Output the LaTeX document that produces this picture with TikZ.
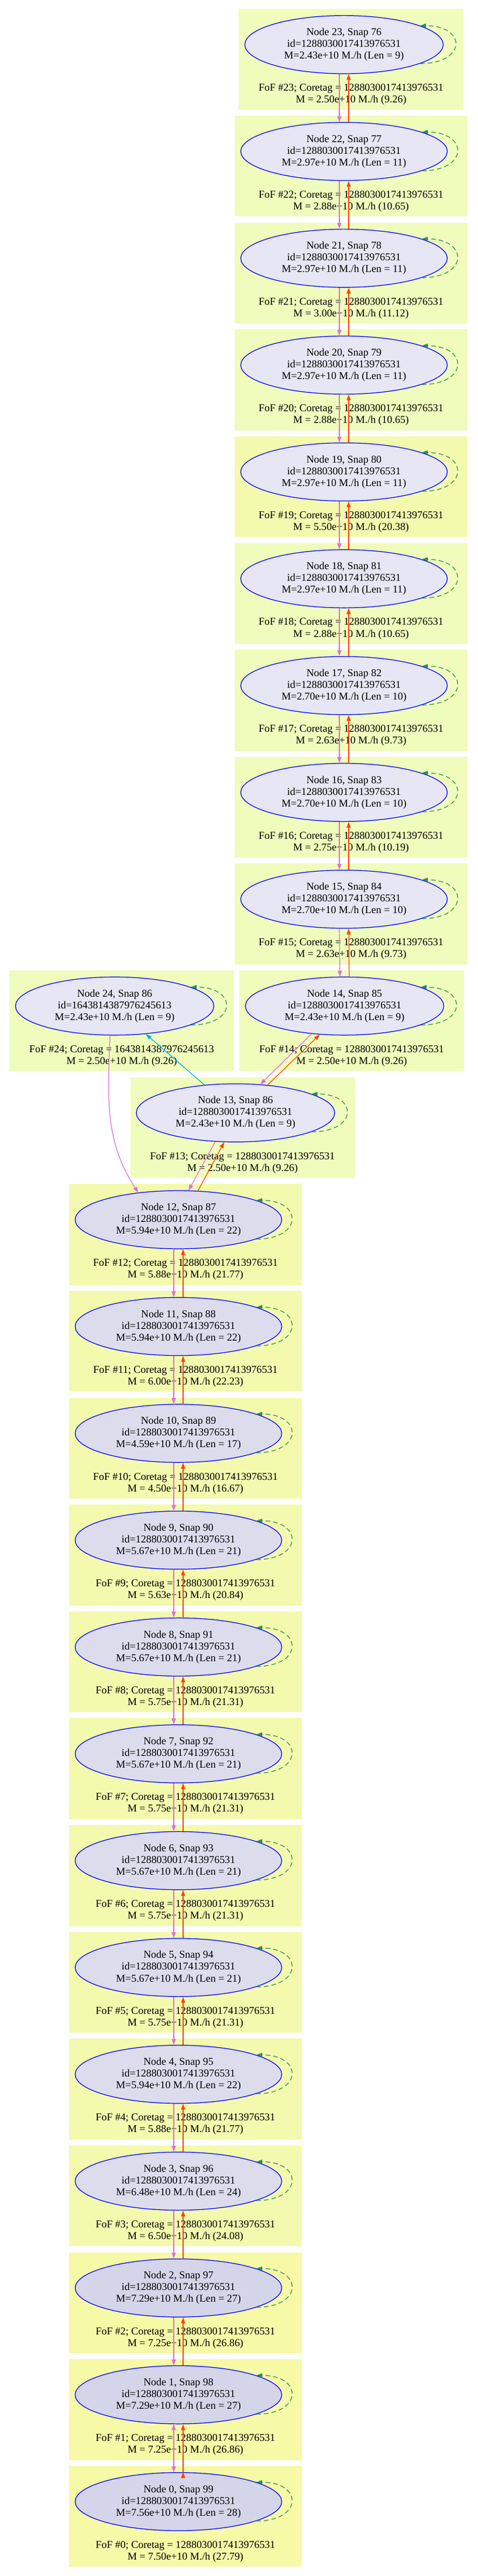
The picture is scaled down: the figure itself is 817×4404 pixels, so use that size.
\documentclass[tikz,border=0pt]{standalone}
\usepackage{fontspec}
\setmainfont{Liberation Serif}
\usetikzlibrary{arrows.meta,shapes.geometric}

\definecolor{palehalo}{HTML}{EFFCBC}
\definecolor{midhalo}{HTML}{F3FAAE}
\definecolor{richhalo}{HTML}{F6F9A6}
\definecolor{palenode}{HTML}{E6E6F4}
\definecolor{midnode}{HTML}{DCDCED}
\definecolor{richnode}{HTML}{D5D5E9}
\definecolor{prog}{HTML}{DA70D6}
\definecolor{desc}{HTML}{FF4500}
\definecolor{selfc}{HTML}{2E8B57}

\tikzset{
  subhalo/.style={ellipse,draw=blue,line width=0.7pt,minimum height=1.988cm,
    inner sep=0pt,align=center,font=\fontsize{10.2}{11.4}\selectfont},
  foflabel/.style={inner sep=0pt,align=center,font=\fontsize{10.2}{11.4}\selectfont},
  selfloop/.style={->,selfc,line width=0.7pt,dash pattern=on 0.16cm off 0.1cm},
  link/.style={->,line width=0.7pt}
}

% #1 node fill, #2 name, #3 x, #4 row, #5 half width, #6 halo fill, #7 node text, #8 halo text
\newcommand\fofbox[8]{%
  \pgfmathsetmacro\rowtop{15.3+182.63*#4}
  \fill[#6] ({#3-#5-10.5},\rowtop) rectangle ({#3+#5+34.5},{\rowtop+172.5});
  \node[subhalo,fill=#1,minimum width={2*#5*0.02cm}] (#2) at (#3,{\rowtop+61}) {#7};
  \node[foflabel] (#2l) at ({#3+12},{\rowtop+146.5}) {#8};
  \draw[selfloop] (#2.-14) .. controls +(80,0) and +(80,0) .. (#2.14);
}

\begin{document}
\begin{tikzpicture}[x=0.02cm,y=-0.02cm,>={Triangle[length=0.2cm,width=0.14cm]}]
\useasboundingbox (0,0) rectangle (817,4404);

\fofbox{palenode}{n23}{588}{0}{169.5}{palehalo}
  {Node 23, Snap 76\\id=1288030017413976531\\M=2.43e+10 M./h (Len = 9)}
  {FoF \#23; Coretag = 1288030017413976531\\M = 2.50e+10 M./h (9.26)}
\fofbox{palenode}{n22}{588}{1}{176.5}{palehalo}
  {Node 22, Snap 77\\id=1288030017413976531\\M=2.97e+10 M./h (Len = 11)}
  {FoF \#22; Coretag = 1288030017413976531\\M = 2.88e+10 M./h (10.65)}
\fofbox{palenode}{n21}{588}{2}{176.5}{palehalo}
  {Node 21, Snap 78\\id=1288030017413976531\\M=2.97e+10 M./h (Len = 11)}
  {FoF \#21; Coretag = 1288030017413976531\\M = 3.00e+10 M./h (11.12)}
\fofbox{palenode}{n20}{588}{3}{176.5}{palehalo}
  {Node 20, Snap 79\\id=1288030017413976531\\M=2.97e+10 M./h (Len = 11)}
  {FoF \#20; Coretag = 1288030017413976531\\M = 2.88e+10 M./h (10.65)}
\fofbox{palenode}{n19}{588}{4}{176.5}{midhalo}
  {Node 19, Snap 80\\id=1288030017413976531\\M=2.97e+10 M./h (Len = 11)}
  {FoF \#19; Coretag = 1288030017413976531\\M = 5.50e+10 M./h (20.38)}
\fofbox{palenode}{n18}{588}{5}{176.5}{palehalo}
  {Node 18, Snap 81\\id=1288030017413976531\\M=2.97e+10 M./h (Len = 11)}
  {FoF \#18; Coretag = 1288030017413976531\\M = 2.88e+10 M./h (10.65)}
\fofbox{palenode}{n17}{588}{6}{176.5}{palehalo}
  {Node 17, Snap 82\\id=1288030017413976531\\M=2.70e+10 M./h (Len = 10)}
  {FoF \#17; Coretag = 1288030017413976531\\M = 2.63e+10 M./h (9.73)}
\fofbox{palenode}{n16}{588}{7}{176.5}{palehalo}
  {Node 16, Snap 83\\id=1288030017413976531\\M=2.70e+10 M./h (Len = 10)}
  {FoF \#16; Coretag = 1288030017413976531\\M = 2.75e+10 M./h (10.19)}
\fofbox{palenode}{n15}{588}{8}{176.5}{palehalo}
  {Node 15, Snap 84\\id=1288030017413976531\\M=2.70e+10 M./h (Len = 10)}
  {FoF \#15; Coretag = 1288030017413976531\\M = 2.63e+10 M./h (9.73)}
\fofbox{palenode}{n24}{196}{9}{169.5}{palehalo}
  {Node 24, Snap 86\\id=1643814387976245613\\M=2.43e+10 M./h (Len = 9)}
  {FoF \#24; Coretag = 1643814387976245613\\M = 2.50e+10 M./h (9.26)}
\fofbox{palenode}{n14}{589}{9}{169.5}{palehalo}
  {Node 14, Snap 85\\id=1288030017413976531\\M=2.43e+10 M./h (Len = 9)}
  {FoF \#14; Coretag = 1288030017413976531\\M = 2.50e+10 M./h (9.26)}
\fofbox{palenode}{n13}{402.5}{10}{169.5}{palehalo}
  {Node 13, Snap 86\\id=1288030017413976531\\M=2.43e+10 M./h (Len = 9)}
  {FoF \#13; Coretag = 1288030017413976531\\M = 2.50e+10 M./h (9.26)}
\fofbox{midnode}{n12}{305}{11}{176.5}{midhalo}
  {Node 12, Snap 87\\id=1288030017413976531\\M=5.94e+10 M./h (Len = 22)}
  {FoF \#12; Coretag = 1288030017413976531\\M = 5.88e+10 M./h (21.77)}
\fofbox{midnode}{n11}{305}{12}{176.5}{midhalo}
  {Node 11, Snap 88\\id=1288030017413976531\\M=5.94e+10 M./h (Len = 22)}
  {FoF \#11; Coretag = 1288030017413976531\\M = 6.00e+10 M./h (22.23)}
\fofbox{midnode}{n10}{305}{13}{176.5}{midhalo}
  {Node 10, Snap 89\\id=1288030017413976531\\M=4.59e+10 M./h (Len = 17)}
  {FoF \#10; Coretag = 1288030017413976531\\M = 4.50e+10 M./h (16.67)}
\fofbox{midnode}{n9}{305}{14}{176.5}{midhalo}
  {Node 9, Snap 90\\id=1288030017413976531\\M=5.67e+10 M./h (Len = 21)}
  {FoF \#9; Coretag = 1288030017413976531\\M = 5.63e+10 M./h (20.84)}
\fofbox{midnode}{n8}{305}{15}{176.5}{midhalo}
  {Node 8, Snap 91\\id=1288030017413976531\\M=5.67e+10 M./h (Len = 21)}
  {FoF \#8; Coretag = 1288030017413976531\\M = 5.75e+10 M./h (21.31)}
\fofbox{midnode}{n7}{305}{16}{176.5}{midhalo}
  {Node 7, Snap 92\\id=1288030017413976531\\M=5.67e+10 M./h (Len = 21)}
  {FoF \#7; Coretag = 1288030017413976531\\M = 5.75e+10 M./h (21.31)}
\fofbox{midnode}{n6}{305}{17}{176.5}{midhalo}
  {Node 6, Snap 93\\id=1288030017413976531\\M=5.67e+10 M./h (Len = 21)}
  {FoF \#6; Coretag = 1288030017413976531\\M = 5.75e+10 M./h (21.31)}
\fofbox{midnode}{n5}{305}{18}{176.5}{midhalo}
  {Node 5, Snap 94\\id=1288030017413976531\\M=5.67e+10 M./h (Len = 21)}
  {FoF \#5; Coretag = 1288030017413976531\\M = 5.75e+10 M./h (21.31)}
\fofbox{midnode}{n4}{305}{19}{176.5}{midhalo}
  {Node 4, Snap 95\\id=1288030017413976531\\M=5.94e+10 M./h (Len = 22)}
  {FoF \#4; Coretag = 1288030017413976531\\M = 5.88e+10 M./h (21.77)}
\fofbox{midnode}{n3}{305}{20}{176.5}{midhalo}
  {Node 3, Snap 96\\id=1288030017413976531\\M=6.48e+10 M./h (Len = 24)}
  {FoF \#3; Coretag = 1288030017413976531\\M = 6.50e+10 M./h (24.08)}
\fofbox{richnode}{n2}{305}{21}{176.5}{richhalo}
  {Node 2, Snap 97\\id=1288030017413976531\\M=7.29e+10 M./h (Len = 27)}
  {FoF \#2; Coretag = 1288030017413976531\\M = 7.25e+10 M./h (26.86)}
\fofbox{richnode}{n1}{305}{22}{176.5}{richhalo}
  {Node 1, Snap 98\\id=1288030017413976531\\M=7.29e+10 M./h (Len = 27)}
  {FoF \#1; Coretag = 1288030017413976531\\M = 7.25e+10 M./h (26.86)}
\fofbox{richnode}{n0}{305}{23}{176.5}{richhalo}
  {Node 0, Snap 99\\id=1288030017413976531\\M=7.56e+10 M./h (Len = 28)}
  {FoF \#0; Coretag = 1288030017413976531\\M = 7.50e+10 M./h (27.79)}

% progenitor links, downwards
\draw[link,prog] ([xshift=-.16cm]n23.south) edge ([xshift=-.16cm]n22.north)
                 ([xshift=-.16cm]n22.south) edge ([xshift=-.16cm]n21.north)
                 ([xshift=-.16cm]n21.south) edge ([xshift=-.16cm]n20.north)
                 ([xshift=-.16cm]n20.south) edge ([xshift=-.16cm]n19.north)
                 ([xshift=-.16cm]n19.south) edge ([xshift=-.16cm]n18.north)
                 ([xshift=-.16cm]n18.south) edge ([xshift=-.16cm]n17.north)
                 ([xshift=-.16cm]n17.south) edge ([xshift=-.16cm]n16.north)
                 ([xshift=-.16cm]n16.south) edge ([xshift=-.16cm]n15.north)
                 ([xshift=-.16cm]n15.south) edge ([xshift=-.16cm]n14.north)
                 (n14.-140) edge (n13.49)
                 (n13.-125) edge (n12.71)
                 ([xshift=-.16cm]n12.south) edge ([xshift=-.16cm]n11.north)
                 ([xshift=-.16cm]n11.south) edge ([xshift=-.16cm]n10.north)
                 ([xshift=-.16cm]n10.south) edge ([xshift=-.16cm]n9.north)
                 ([xshift=-.16cm]n9.south) edge ([xshift=-.16cm]n8.north)
                 ([xshift=-.16cm]n8.south) edge ([xshift=-.16cm]n7.north)
                 ([xshift=-.16cm]n7.south) edge ([xshift=-.16cm]n6.north)
                 ([xshift=-.16cm]n6.south) edge ([xshift=-.16cm]n5.north)
                 ([xshift=-.16cm]n5.south) edge ([xshift=-.16cm]n4.north)
                 ([xshift=-.16cm]n4.south) edge ([xshift=-.16cm]n3.north)
                 ([xshift=-.16cm]n3.south) edge ([xshift=-.16cm]n2.north)
                 ([xshift=-.16cm]n2.south) edge ([xshift=-.16cm]n1.north)
                 ([xshift=-.16cm]n1.south) edge ([xshift=-.16cm]n0.north)
;
\draw[link,prog] (n24.-99) .. controls +(-4,106) and +(-58,-89) .. (n12.146);
% descendant links, upwards
\draw[link,desc] ([xshift=.16cm]n22.north) edge ([xshift=.16cm]n23.south)
                 ([xshift=.16cm]n21.north) edge ([xshift=.16cm]n22.south)
                 ([xshift=.16cm]n20.north) edge ([xshift=.16cm]n21.south)
                 ([xshift=.16cm]n19.north) edge ([xshift=.16cm]n20.south)
                 ([xshift=.16cm]n18.north) edge ([xshift=.16cm]n19.south)
                 ([xshift=.16cm]n17.north) edge ([xshift=.16cm]n18.south)
                 ([xshift=.16cm]n16.north) edge ([xshift=.16cm]n17.south)
                 ([xshift=.16cm]n15.north) edge ([xshift=.16cm]n16.south)
                 ([xshift=.16cm]n14.north) edge ([xshift=.16cm]n15.south)
                 (n13.41) edge (n14.-131)
                 (n12.56) edge (n13.-111)
                 ([xshift=.16cm]n11.north) edge ([xshift=.16cm]n12.south)
                 ([xshift=.16cm]n10.north) edge ([xshift=.16cm]n11.south)
                 ([xshift=.16cm]n9.north) edge ([xshift=.16cm]n10.south)
                 ([xshift=.16cm]n8.north) edge ([xshift=.16cm]n9.south)
                 ([xshift=.16cm]n7.north) edge ([xshift=.16cm]n8.south)
                 ([xshift=.16cm]n6.north) edge ([xshift=.16cm]n7.south)
                 ([xshift=.16cm]n5.north) edge ([xshift=.16cm]n6.south)
                 ([xshift=.16cm]n4.north) edge ([xshift=.16cm]n5.south)
                 ([xshift=.16cm]n3.north) edge ([xshift=.16cm]n4.south)
                 ([xshift=.16cm]n2.north) edge ([xshift=.16cm]n3.south)
                 ([xshift=.16cm]n1.north) edge ([xshift=.16cm]n2.south)
                 ([xshift=.16cm]n0.north) edge ([xshift=.16cm]n1.south)
;
\draw[link,cyan] (n13.138) -- (n24.-42);
\end{tikzpicture}
\end{document}
